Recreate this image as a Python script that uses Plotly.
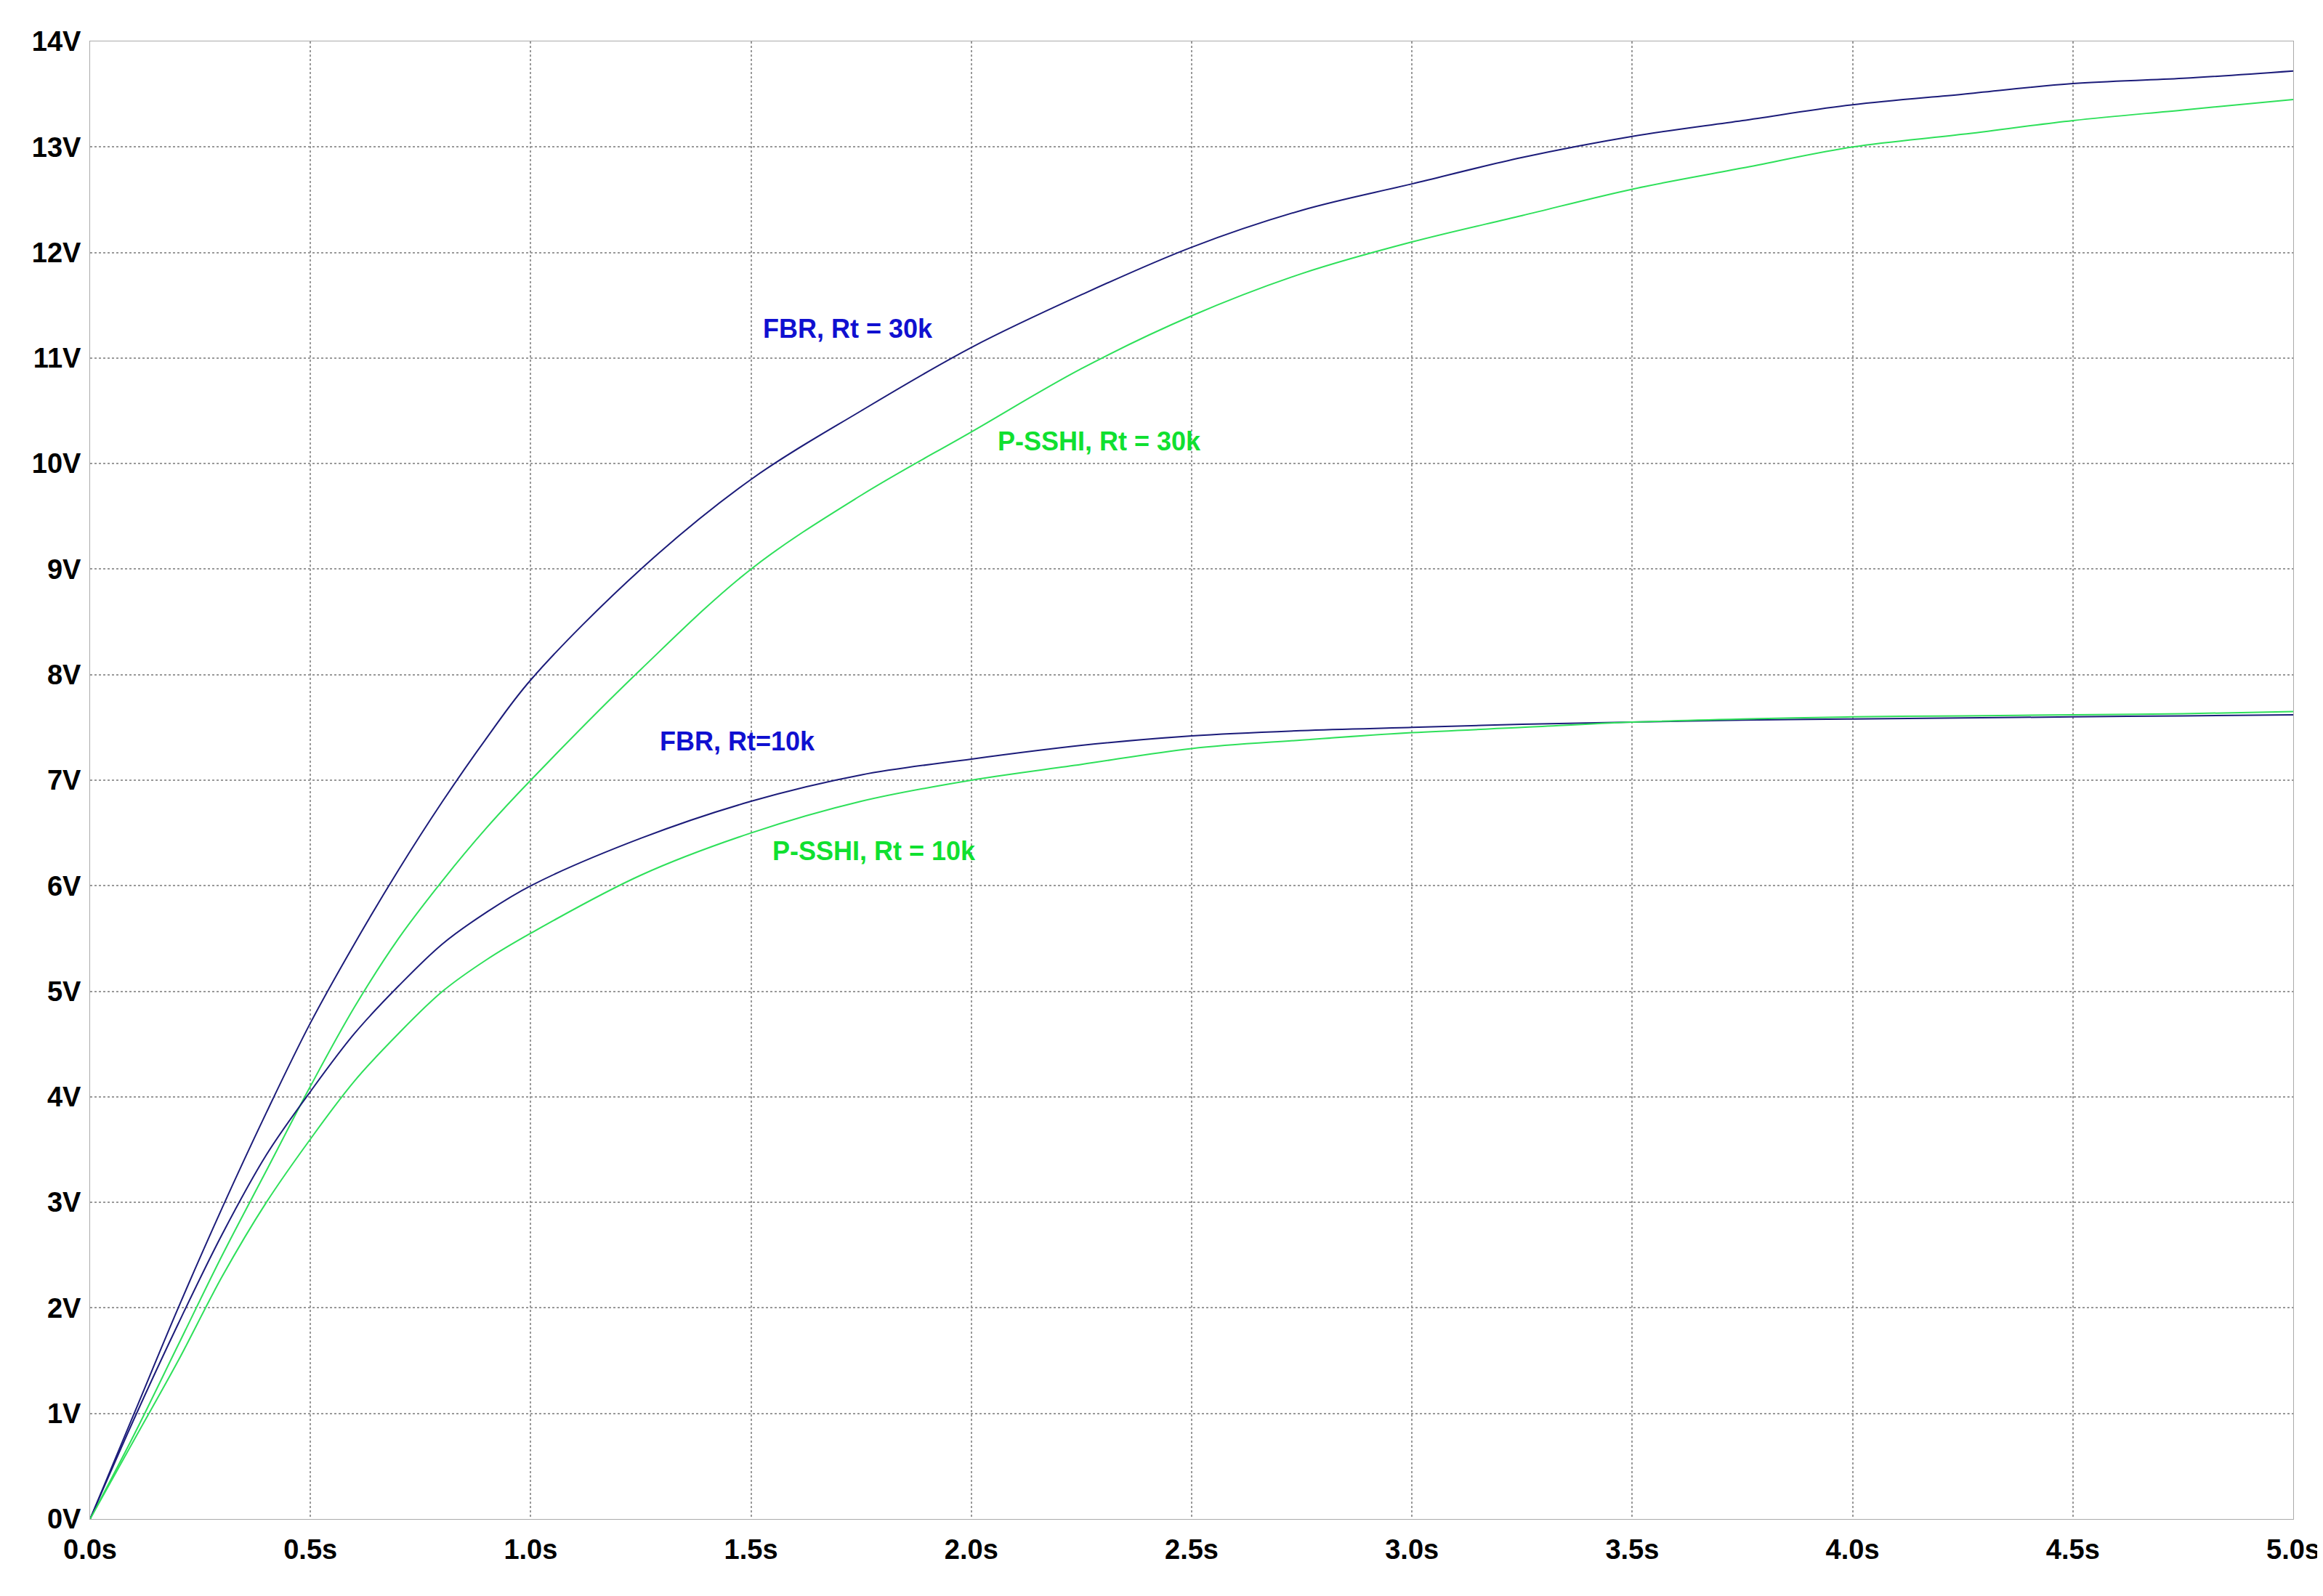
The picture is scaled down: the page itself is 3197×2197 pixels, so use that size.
import plotly.graph_objects as go

t = [0,0.1,0.2,0.3,0.4,0.5,0.6,0.7,0.8,0.9,1.0,1.25,1.5,1.75,2.0,2.25,2.5,2.75,3.0,3.25,3.5,3.75,4.0,4.25,4.5,4.75,5.0]
fbr_30k = [0,1.0,2.0,2.95,3.85,4.7,5.45,6.15,6.8,7.4,7.95,9.0,9.85,10.5,11.1,11.6,12.05,12.4,12.65,12.9,13.1,13.25,13.4,13.5,13.6,13.65,13.72]
pssh_30k = [0,0.8,1.65,2.5,3.3,4.1,4.85,5.5,6.05,6.55,7.0,8.05,9.0,9.7,10.3,10.9,11.4,11.8,12.1,12.35,12.6,12.8,13.0,13.12,13.25,13.35,13.45]
fbr_10k = [0,0.95,1.85,2.7,3.45,4.05,4.6,5.05,5.45,5.75,6.0,6.45,6.8,7.05,7.2,7.33,7.42,7.47,7.5,7.53,7.55,7.57,7.58,7.59,7.6,7.61,7.62]
pssh_10k = [0,0.75,1.5,2.3,3.0,3.6,4.15,4.6,5.0,5.3,5.55,6.1,6.5,6.8,7.0,7.15,7.3,7.38,7.45,7.5,7.55,7.58,7.6,7.61,7.62,7.63,7.65]

labels = ["FBR, Rt = 30k", "P-SSHI, Rt = 30k", "FBR, Rt=10k", "P-SSHI, Rt = 10k"]
label_x = [1.72, 2.29, 1.47, 1.78]
label_y = [11.28, 10.21, 7.37, 6.33]

navy = "#1c1c7a"
green = "#2ee05a"
fig = go.Figure()
for y, c in [(fbr_30k, navy), (pssh_30k, green), (fbr_10k, navy), (pssh_10k, green)]:
    fig.add_trace(go.Scatter(x=t, y=y, mode="lines", line=dict(color=c, width=2, shape="spline"), showlegend=False))

lcolors = ["#1010d0", "#10e030", "#1010d0", "#10e030"]
for s, x, y, c in zip(labels, label_x, label_y, lcolors):
    fig.add_annotation(x=x, y=y, text="<b>" + s + "</b>", showarrow=False, font=dict(family="Liberation Sans", size=36, color=c))

tickx = [0,0.5,1,1.5,2,2.5,3,3.5,4,4.5,5]
tickxl = ["0.0s","0.5s","1.0s","1.5s","2.0s","2.5s","3.0s","3.5s","4.0s","4.5s","5.0s"]
ticky = list(range(15))
tickyl = [f"{v}V" for v in ticky]
ax = dict(showgrid=True, gridcolor="#999999", griddash="dot", gridwidth=1.5, showline=True, linecolor="#aaaaaa", mirror=True, zeroline=False,
          tickfont=dict(family="Liberation Sans", size=38, color="black"), ticks="")
fig.update_xaxes(range=[0,5], tickvals=tickx, ticktext=["<b>%s</b>" % s for s in tickxl], ticklabelstandoff=8, **ax)
fig.update_yaxes(range=[0,14], tickvals=ticky, ticktext=["<b>%s</b>" % s for s in tickyl], ticklabelstandoff=4, **ax)
fig.update_layout(width=3197, height=2197, margin=dict(l=116, r=49, t=49, b=114), plot_bgcolor="white", paper_bgcolor="white")
fig.write_html("out.html")
